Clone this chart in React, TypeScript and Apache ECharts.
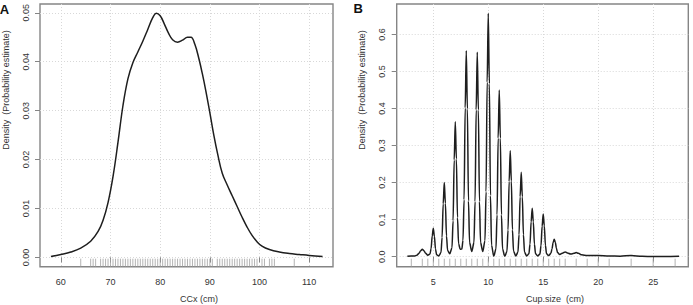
import { useEffect, useRef } from "react";
import * as echarts from "echarts";

// Panel A: kernel density of CCx (cm)
const ccxCurve: [number, number][] = [
  [58.0, 0.0002], [60.0, 0.0006], [62.0, 0.0011], [64.0, 0.0019], [66.0, 0.0033],
  [67.5, 0.0053], [68.5, 0.0076], [69.5, 0.0112], [70.5, 0.0165], [71.5, 0.0235],
  [72.5, 0.0310], [73.5, 0.0365], [74.5, 0.0398], [75.5, 0.0420], [76.5, 0.0442],
  [77.5, 0.0466], [78.5, 0.0490], [79.2, 0.0499], [80.0, 0.0494], [80.8, 0.0478],
  [81.7, 0.0458], [82.5, 0.0445], [83.5, 0.0440], [84.5, 0.0444], [85.5, 0.0450],
  [86.2, 0.0450], [87.0, 0.0435], [87.8, 0.0406], [88.5, 0.0375], [89.2, 0.0340],
  [90.0, 0.0296], [90.8, 0.0250], [91.6, 0.0210], [92.5, 0.0172], [93.5, 0.0148],
  [94.5, 0.0126], [95.5, 0.0104], [96.5, 0.0082], [97.5, 0.0062], [98.5, 0.0045],
  [99.5, 0.0032], [100.5, 0.0023], [102.0, 0.0016], [104.0, 0.0011], [106.0, 0.0008],
  [108.0, 0.0006], [110.0, 0.0004], [112.7, 0.0002],
];

// Panel A: observed CCx values (rug)
const ccxRug = [
  64, 66, 66.5, 67, 68, 68.5, 69, 69.5, 70, 70.5,
  71, 71.5, 72, 72.5, 73, 73.5, 74, 74.5, 75, 75.5,
  76, 76.5, 77, 77.5, 78, 78.5, 79, 79.5, 80, 80.5,
  81, 81.5, 82, 82.5, 83, 83.5, 84, 84.5, 85, 85.5,
  86, 86.5, 87, 87.5, 88, 88.5, 89, 89.5, 90, 90.5,
  91.5, 92, 92.5, 93, 93.5, 94, 94.5, 95, 95.5, 96,
  96.5, 97, 97.5, 98, 98.5, 99, 99.5, 100.5, 101, 102,
  102.5, 103, 107,
];

// Panel B: kernel density of cup size (cm)
const cupCurve: [number, number][] = [
  [2.64, 0.001], [3.0, 0.002], [3.3, 0.002], [3.5, 0.004], [3.7, 0.009], [3.85, 0.016],
  [4.0, 0.020], [4.15, 0.016], [4.3, 0.009], [4.5, 0.004],
  [4.7, 0.0073], [4.8, 0.022], [4.9, 0.056], [5.0, 0.077], [5.1, 0.055], [5.2, 0.021], [5.3, 0.0054], [5.5, 0.002],
  [5.7, 0.011], [5.8, 0.052], [5.9, 0.143], [6.0, 0.200], [6.1, 0.144], [6.2, 0.056], [6.3, 0.017], [6.5, 0.008],
  [6.7, 0.024], [6.8, 0.097], [6.9, 0.261], [7.0, 0.364], [7.1, 0.264], [7.2, 0.106], [7.3, 0.035], [7.45, 0.020], [7.6, 0.021],
  [7.7, 0.044], [7.8, 0.154], [7.9, 0.401], [8.0, 0.556], [8.1, 0.399], [8.2, 0.150], [8.3, 0.038], [8.5, 0.014],
  [8.7, 0.038], [8.8, 0.149], [8.9, 0.396], [9.0, 0.552], [9.1, 0.396], [9.2, 0.149], [9.3, 0.038], [9.5, 0.014],
  [9.7, 0.043], [9.8, 0.175], [9.9, 0.471], [10.0, 0.657], [10.1, 0.467], [10.2, 0.165], [10.3, 0.031], [10.5, 0.001],
  [10.7, 0.021], [10.8, 0.113], [10.9, 0.320], [11.0, 0.450], [11.1, 0.320], [11.2, 0.113], [11.3, 0.021], [11.5, 0.001],
  [11.7, 0.014], [11.8, 0.072], [11.9, 0.203], [12.0, 0.286], [12.1, 0.204], [12.2, 0.073], [12.3, 0.015], [12.5, 0.002],
  [12.7, 0.012], [12.8, 0.059], [12.9, 0.162], [13.0, 0.228], [13.1, 0.162], [13.2, 0.059], [13.3, 0.012], [13.5, 0.002],
  [13.7, 0.008], [13.8, 0.034], [13.9, 0.094], [14.0, 0.131], [14.1, 0.094], [14.2, 0.034], [14.3, 0.008], [14.5, 0.002],
  [14.7, 0.007], [14.8, 0.030], [14.9, 0.082], [15.0, 0.115], [15.1, 0.083], [15.2, 0.031], [15.3, 0.008], [15.5, 0.003],
  [15.7, 0.009], [15.8, 0.021], [15.9, 0.038], [16.0, 0.047], [16.1, 0.039], [16.2, 0.023], [16.3, 0.0115], [16.5, 0.006],
  [16.8, 0.010], [17.0, 0.013], [17.2, 0.010], [17.5, 0.007], [17.8, 0.009], [18.0, 0.011], [18.2, 0.009], [18.5, 0.005],
  [19.0, 0.003], [20.0, 0.003], [21.0, 0.002], [22.0, 0.0015], [23.0, 0.003], [24.0, 0.001], [25.0, 0.0005],
  [26.0, 0.0008], [27.36, 0.001],
];

// Panel B: observed cup sizes (rug)
const cupRug = [
  3, 4, 4.5, 5, 5.5, 6, 6.5, 7, 7.5, 8, 8.5, 9, 9.5, 10, 10.5, 11, 11.5, 12,
  12.5, 13, 13.5, 14, 14.5, 15, 15.5, 16, 16.5, 17, 18, 19, 20, 21, 23, 25, 27,
];

// Tick positions
const ccxTicks = [60, 70, 80, 90, 100, 110];
const ccxDensityTicks = [0, 0.01, 0.02, 0.03, 0.04, 0.05];
const cupTicks = [5, 10, 15, 20, 25];
const cupDensityTicks = [0, 0.1, 0.2, 0.3, 0.4, 0.5, 0.6];

const FONT = "Liberation Sans";
const TEXT = "#333";
const FRAME = "#858585";

const A_X = { min: 55.8, max: 114.8 };
const A_Y = { min: -0.0019, max: 0.0518 };
const B_X = { min: 1.67, max: 28.2 };
const B_Y = { min: -0.027, max: 0.682 };

function xAxisFor(gridIndex: number, range: { min: number; max: number }, ticks: number[]) {
  return {
    type: "value",
    gridIndex,
    min: range.min,
    max: range.max,
    axisLine: { show: false },
    axisTick: { show: true, inside: false, length: 5, customValues: ticks, lineStyle: { color: FRAME, width: 1 } },
    axisLabel: { show: true, customValues: ticks, margin: 11, fontSize: 9, color: TEXT, fontFamily: FONT },
    splitLine: { show: true, lineStyle: { color: "#d8d8d8", type: [1, 2], width: 1 } },
  };
}

function yAxisFor(
  gridIndex: number,
  range: { min: number; max: number },
  ticks: number[],
  digits: number
) {
  return {
    type: "value",
    gridIndex,
    min: range.min,
    max: range.max,
    axisLine: { show: false },
    axisTick: { show: true, inside: false, length: 5, customValues: ticks, lineStyle: { color: FRAME, width: 1 } },
    axisLabel: {
      show: true,
      customValues: ticks,
      rotate: 90,
      margin: 10,
      fontSize: 9,
      color: TEXT,
      fontFamily: FONT,
      formatter: (v: number) => v.toFixed(digits),
    },
    splitLine: { show: true, lineStyle: { color: "#d8d8d8", type: [1, 2], width: 1 } },
  };
}

function rugSeries(xIndex: number, values: number[], yMin: number) {
  return {
    type: "custom",
    xAxisIndex: xIndex,
    yAxisIndex: xIndex,
    data: values.map((v) => [v, yMin]),
    renderItem: (_p: any, api: any) => {
      const pt = api.coord([api.value(0), api.value(1)]);
      return {
        type: "line",
        shape: { x1: pt[0], y1: pt[1], x2: pt[0], y2: pt[1] - 8 },
        style: { stroke: "#a0a0a0", lineWidth: 0.8 },
      };
    },
    silent: true,
    z: 3,
  };
}

export default function App() {
  const ref = useRef<HTMLDivElement>(null);

  useEffect(() => {
    if (!ref.current) return;
    const chart = echarts.init(ref.current, null, { renderer: "svg" });
    chart.setOption({
      animation: false,
      textStyle: { fontFamily: FONT },
      grid: [
        {
          left: 40, top: 4, width: 293, height: 262.7, containLabel: false,
          show: true, borderColor: FRAME, borderWidth: 1.4, backgroundColor: "transparent",
        },
        {
          left: 396.7, top: 4, width: 291.6, height: 262.7, containLabel: false,
          show: true, borderColor: FRAME, borderWidth: 1.4, backgroundColor: "transparent",
        },
      ],
      xAxis: [xAxisFor(0, A_X, ccxTicks), xAxisFor(1, B_X, cupTicks)],
      yAxis: [yAxisFor(0, A_Y, ccxDensityTicks, 2), yAxisFor(1, B_Y, cupDensityTicks, 1)],
      series: [
        {
          type: "line",
          xAxisIndex: 0,
          yAxisIndex: 0,
          data: ccxCurve,
          smooth: 0.4,
          showSymbol: false,
          lineStyle: { color: "#1e1e1e", width: 1.5 },
          z: 4,
        },
        {
          type: "line",
          xAxisIndex: 1,
          yAxisIndex: 1,
          data: cupCurve,
          smooth: 0.3,
          smoothMonotone: "x",
          showSymbol: false,
          lineStyle: { color: "#1e1e1e", width: 1.5 },
          z: 4,
        },
        rugSeries(0, ccxRug, A_Y.min),
        rugSeries(1, cupRug, B_Y.min),
      ],
      graphic: [
        {
          type: "text", x: 4.5, y: 9,
          style: { text: "A", font: `bold 13px "${FONT}"`, fill: "#111", align: "center", verticalAlign: "middle" },
        },
        {
          type: "text", x: 358.3, y: 8,
          style: { text: "B", font: `bold 13px "${FONT}"`, fill: "#111", align: "center", verticalAlign: "middle" },
        },
        {
          type: "text", x: 6, y: 90, rotation: Math.PI / 2,
          style: {
            text: "Density  (Probability estimate)", font: `9px "${FONT}"`, fill: TEXT,
            align: "center", verticalAlign: "middle",
          },
        },
        {
          type: "text", x: 362, y: 90, rotation: Math.PI / 2,
          style: {
            text: "Density  (Probability estimate)", font: `9px "${FONT}"`, fill: TEXT,
            align: "center", verticalAlign: "middle",
          },
        },
        {
          type: "text", x: 199, y: 298.5,
          style: { text: "CCx (cm)", font: `9px "${FONT}"`, fill: TEXT, align: "center", verticalAlign: "middle" },
        },
        {
          type: "text", x: 555, y: 298.5,
          style: { text: "Cup.size  (cm)", font: `9px "${FONT}"`, fill: TEXT, align: "center", verticalAlign: "middle" },
        },
      ],
    });
    return () => chart.dispose();
  }, []);

  return (
    <div
      ref={ref}
      style={{ position: "fixed", left: 0, top: 0, width: 693, height: 305, background: "#fff" }}
    />
  );
}
